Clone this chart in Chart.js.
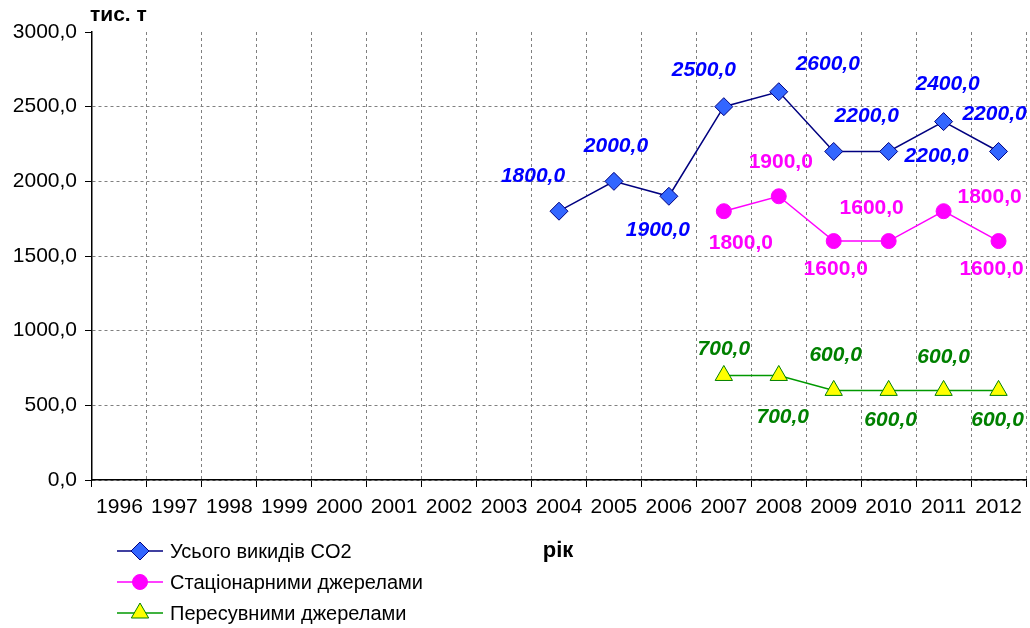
<!DOCTYPE html>
<html>
<head>
<meta charset="utf-8">
<script src="https://cdn.jsdelivr.net/npm/chart.js@4/dist/chart.umd.min.js"></script>
<style>
  html, body { margin: 0; padding: 0; background: #fff; overflow: hidden; }
  #wrap { width: 1030px; height: 628px; }
  canvas { display: block; }
</style>
</head>
<body>
<div id="wrap"><canvas id="co2-chart" width="1030" height="628"></canvas></div>
<script>
const years = ['1996', '1997', '1998', '1999', '2000', '2001', '2002', '2003', '2004',
               '2005', '2006', '2007', '2008', '2009', '2010', '2011', '2012'];
const totalCO2 = [null, null, null, null, null, null, null, null, 1800, 2000, 1900, 2500, 2600, 2200, 2200, 2400, 2200];
const stationary = [null, null, null, null, null, null, null, null, null, null, null, 1800, 1900, 1600, 1600, 1800, 1600];
const mobile = [null, null, null, null, null, null, null, null, null, null, null, 700, 700, 600, 600, 600, 600];
const seriesNames = ['Усього викидів CO2', 'Стаціонарними джерелами', 'Пересувними джерелами'];
const yTicks = [0, 500, 1000, 1500, 2000, 2500, 3000];

// where each value label sits relative to its point (dx, dy), only for years that have data
const labelShift = [
  [[-26, -35], [2, -35], [-11, 34], [-20, -36], [49, -28], [33, -35], [48, 5], [4, -37], [-4, -37]],
  [[17, 32], [2, -34], [2, 28], [-17, -33], [46, -14], [-7, 28]],
  [[0, -26], [4, 42], [2, -35], [2, 30], [0, -33], [-1, 30]]
];
const FONT = '"Liberation Sans", Arial, sans-serif';
const labelFonts = ['italic bold 21px ' + FONT, 'bold 21px ' + FONT, 'italic bold 21px ' + FONT];
const labelColors = ['#0000FF', '#FF00FF', '#008000'];

const fmt = v => v.toFixed(1).replace('.', ',');
Chart.defaults.font.family = FONT;

const valueLabels = {
  id: 'valueLabels',
  afterDatasetsDraw(chart) {
    const ctx = chart.ctx;
    ctx.save();
    ctx.textAlign = 'center';
    ctx.textBaseline = 'middle';
    chart.data.datasets.forEach((ds, di) => {
      const meta = chart.getDatasetMeta(di);
      let k = 0;
      ds.data.forEach((v, i) => {
        if (v === null) return;
        const pt = meta.data[i];
        const s = labelShift[di][k++] || [0, -30];
        ctx.font = labelFonts[di];
        ctx.fillStyle = labelColors[di];
        ctx.fillText(fmt(v), pt.x + s[0], pt.y + s[1]);
      });
    });
    ctx.restore();
  }
};

const extras = {
  id: 'extras',
  afterDraw(chart) {
    const ctx = chart.ctx;
    ctx.save();
    ctx.fillStyle = '#000';
    ctx.font = 'bold 21px ' + FONT;
    ctx.textBaseline = 'middle';
    ctx.textAlign = 'left';
    ctx.fillText('тис. т', 90, 15);
    ctx.font = 'bold 22px ' + FONT;
    ctx.textAlign = 'center';
    ctx.fillText('рік', 558, 551);

    // legend, one item per row
    chart.data.datasets.forEach((ds, di) => {
      const y = 551 + di * 31;
      ctx.strokeStyle = ds.borderColor;
      ctx.lineWidth = 1.5;
      ctx.beginPath();
      ctx.moveTo(117, y);
      ctx.lineTo(163, y);
      ctx.stroke();
      ctx.fillStyle = ds.pointBackgroundColor;
      ctx.strokeStyle = ds.pointBorderColor;
      ctx.lineWidth = 1;
      Chart.helpers.drawPoint(ctx, {pointStyle: ds.pointStyle, radius: ds.pointRadius, borderWidth: 1, rotation: 0}, 140, y);
      ctx.fillStyle = '#000';
      ctx.font = '20px ' + FONT;
      ctx.textAlign = 'left';
      ctx.fillText(ds.label, 170, y + 1);
    });
    ctx.restore();
  }
};

const data = {
  labels: years,
  datasets: [
    {
      label: seriesNames[0],
      data: totalCO2,
      borderColor: '#000080',
      borderWidth: 1.5,
      pointStyle: 'rectRot',
      pointRadius: 9,
      pointBackgroundColor: '#3366FF',
      pointBorderColor: '#000080',
      pointBorderWidth: 1
    },
    {
      label: seriesNames[1],
      data: stationary,
      borderColor: '#FF00FF',
      borderWidth: 1.5,
      pointStyle: 'circle',
      pointRadius: 7.5,
      pointBackgroundColor: '#FF00FF',
      pointBorderColor: '#FF00FF',
      pointBorderWidth: 1
    },
    {
      label: seriesNames[2],
      data: mobile,
      borderColor: '#009900',
      borderWidth: 1.5,
      pointStyle: 'triangle',
      pointRadius: 10,
      pointBackgroundColor: '#FFFF00',
      pointBorderColor: '#008000',
      pointBorderWidth: 1
    }
  ]
};

const config = {
  type: 'line',
  data: data,
  options: {
    responsive: false,
    animation: false,
    layout: {autoPadding: false, padding: {top: 32, right: 4, left: 0, bottom: 0}},
    plugins: {legend: {display: false}, tooltip: {enabled: false}},
    scales: {
      x: {
        offset: true,
        afterFit(scale) {
          scale.height = 148;
          scale.paddingLeft = 0;
          scale.paddingRight = 0;
        },
        grid: {
          offset: true,
          color: '#808080',
          tickColor: '#000',
          tickLength: 7,
          tickBorderDash: []
        },
        border: {color: '#000', width: 1.5, dash: [3, 3]},
        ticks: {color: '#000', font: {size: 21}, padding: 8, maxRotation: 0, autoSkip: false}
      },
      y: {
        min: 0,
        max: 3000,
        afterFit(scale) { scale.width = 92; },
        afterBuildTicks(scale) { scale.ticks = yTicks.map(v => ({value: v})); },
        grid: {
          color: c => (c.tick && c.tick.value === 3000) ? 'rgba(0,0,0,0)' : '#808080',
          tickColor: '#000',
          tickLength: 7,
          tickBorderDash: []
        },
        border: {color: '#000', width: 1.5, dash: [3, 3]},
        ticks: {color: '#000', font: {size: 21}, padding: 8, callback: v => fmt(v)}
      }
    }
  },
  plugins: [valueLabels, extras]
};

const myChart = new Chart(document.getElementById('co2-chart'), config);
</script>
</body>
</html>
